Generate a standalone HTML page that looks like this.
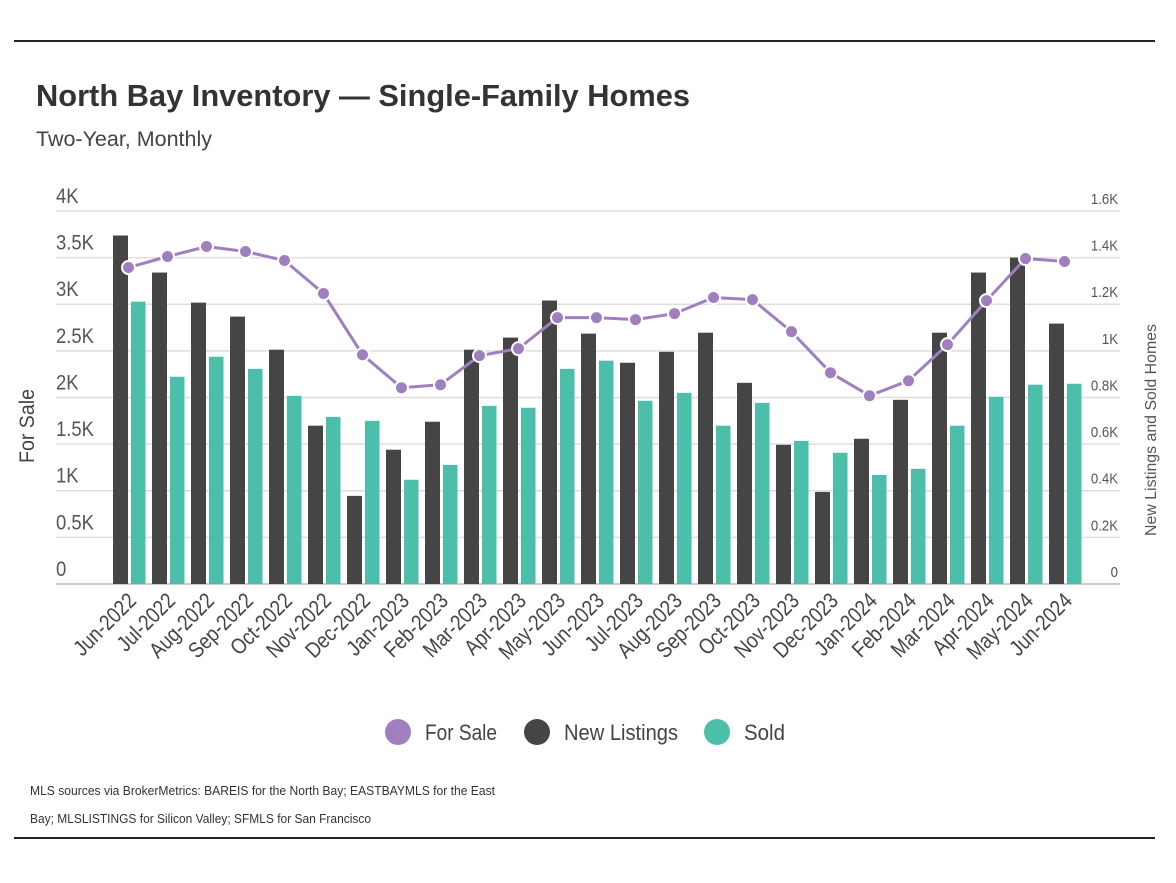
<!DOCTYPE html>
<html><head><meta charset="utf-8">
<style>
html,body{margin:0;padding:0;background:#fff;}
body{width:1176px;height:878px;overflow:hidden;font-family:"Liberation Sans Narrow","Liberation Sans",sans-serif;}
svg text{font-family:"Liberation Sans Narrow","Liberation Sans",sans-serif;}
</style></head>
<body>
<svg id="chart" width="1176" height="878" xmlns="http://www.w3.org/2000/svg">
<line x1="14" y1="41" x2="1155" y2="41" stroke="#222" stroke-width="2"/>
<line x1="14" y1="838" x2="1155" y2="838" stroke="#222" stroke-width="2"/>
<text x="36" y="106" font-size="31" font-weight="bold" fill="#333" textLength="654" lengthAdjust="spacingAndGlyphs">North Bay Inventory — Single-Family Homes</text>
<text x="36" y="146" font-size="21" fill="#444" textLength="176" lengthAdjust="spacingAndGlyphs">Two-Year, Monthly</text>
<text transform="translate(34,426) rotate(-90)" text-anchor="middle" font-size="21" fill="#444" textLength="74" lengthAdjust="spacingAndGlyphs">For Sale</text>
<text transform="translate(1156,430) rotate(-90)" text-anchor="middle" font-size="16" fill="#555" textLength="212" lengthAdjust="spacingAndGlyphs">New Listings and Sold Homes</text>
<g id="grid"></g><g id="bars"></g><g id="line"></g><g id="xlabels"></g>
<g>
<g><circle cx="398" cy="732" r="13" fill="#a07fc0"/><text x="425" y="740" font-size="22" fill="#444" textLength="72" lengthAdjust="spacingAndGlyphs">For Sale</text></g>
<g><circle cx="537" cy="732" r="13" fill="#454545"/><text x="564" y="740" font-size="22" fill="#444" textLength="114" lengthAdjust="spacingAndGlyphs">New Listings</text></g>
<g><circle cx="717" cy="732" r="13" fill="#4bbfa9"/><text x="744" y="740" font-size="22" fill="#444" textLength="41" lengthAdjust="spacingAndGlyphs">Sold</text></g>
</g>
<text x="30" y="795" font-size="12.5" fill="#333" textLength="465" lengthAdjust="spacingAndGlyphs">MLS sources via BrokerMetrics: BAREIS for the North Bay; EASTBAYMLS for the East</text>
<text x="30" y="823" font-size="12.5" fill="#333" textLength="341" lengthAdjust="spacingAndGlyphs">Bay; MLSLISTINGS for Silicon Valley; SFMLS for San Francisco</text>
</svg>
<script>
const categories=["Jun-2022","Jul-2022","Aug-2022","Sep-2022","Oct-2022","Nov-2022","Dec-2022","Jan-2023","Feb-2023","Mar-2023","Apr-2023","May-2023","Jun-2023","Jul-2023","Aug-2023","Sep-2023","Oct-2023","Nov-2023","Dec-2023","Jan-2024","Feb-2024","Mar-2024","Apr-2024","May-2024","Jun-2024"];
const forSale=[3394,3512,3619,3566,3469,3115,2459,2105,2137,2449,2524,2857,2857,2835,2900,3072,3050,2706,2266,2019,2180,2567,3039,3490,3458];
const newListings=[1495,1336,1207,1147,1005,679,378,576,696,1005,1057,1216,1074,949,996,1078,863,597,395,623,790,1078,1336,1400,1117];
const sold=[1211,889,975,923,807,717,700,447,511,764,756,923,958,786,820,679,777,614,563,468,494,679,803,855,859];
const leftTicks=[0,500,1000,1500,2000,2500,3000,3500,4000];
const leftTickLabels=["0","0.5K","1K","1.5K","2K","2.5K","3K","3.5K","4K"];
const rightTicks=[0,200,400,600,800,1000,1200,1400,1600];
const rightTickLabels=["0","0.2K","0.4K","0.6K","0.8K","1K","1.2K","1.4K","1.6K"];

const NS="http://www.w3.org/2000/svg";
const plotTop=211,plotBottom=584,plotLeft=110,step=39;
const yL=v=>plotBottom-(v/4000)*(plotBottom-plotTop);
const yR=v=>plotBottom-(v/1600)*(plotBottom-plotTop);
const xC=i=>plotLeft+step*(i+0.5);
function mk(tag,attrs,parent){const e=document.createElementNS(NS,tag);for(const k in attrs)e.setAttribute(k,attrs[k]);parent.appendChild(e);return e;}
const grid=document.getElementById('grid');
leftTicks.forEach((t,i)=>{
  const l=mk('line',{x1:56,x2:1120,y1:yL(t),y2:yL(t),stroke:i===0?'#bbb':'#ddd','stroke-width':1.5},grid);
  
  
  const tx=mk('text',{x:56,y:yL(t)-8,'font-size':21,fill:'#555',transform:`translate(${56*0.12},0) scale(0.88,1)`},grid);
  tx.textContent=leftTickLabels[i];
  
  
});
rightTicks.forEach((t,i)=>{
  const tx=mk('text',{x:1118,y:yR(t)-7,'font-size':15,fill:'#555','text-anchor':'end',transform:`translate(${1118*0.12},0) scale(0.88,1)`},grid);
  tx.textContent=rightTickLabels[i];
  
  
});
const bars=document.getElementById('bars');
categories.forEach((c,i)=>{
  const x=xC(i);
  const b1=mk('rect',{x:x-16.5,y:yR(newListings[i]),width:15,height:plotBottom-yR(newListings[i]),fill:'#454545'},bars);
  
  
  const b2=mk('rect',{x:x+1.5,y:yR(sold[i]),width:14.5,height:plotBottom-yR(sold[i]),fill:'#4bbfa9'},bars);
  
  
  const tl=mk('text',{transform:`translate(${x+8},${plotBottom+18}) rotate(-45) scale(0.85,1)`,'text-anchor':'end','font-size':22,fill:'#444'},document.getElementById('xlabels'));
  tl.textContent=c;
  
  
});
const lineG=document.getElementById('line');
const pts=forSale.map((v,i)=>[xC(i)-1,yL(v)]);
const pl=mk('polyline',{points:pts.map(p=>p.join(',')).join(' '),fill:'none',stroke:'#a07fc0','stroke-width':3},lineG);


pts.forEach(p=>{
  const c=mk('circle',{cx:p[0],cy:p[1],r:6.5,fill:'#a07fc0',stroke:'#fff','stroke-width':2},lineG);
  
  
});
</script>
</body></html>
